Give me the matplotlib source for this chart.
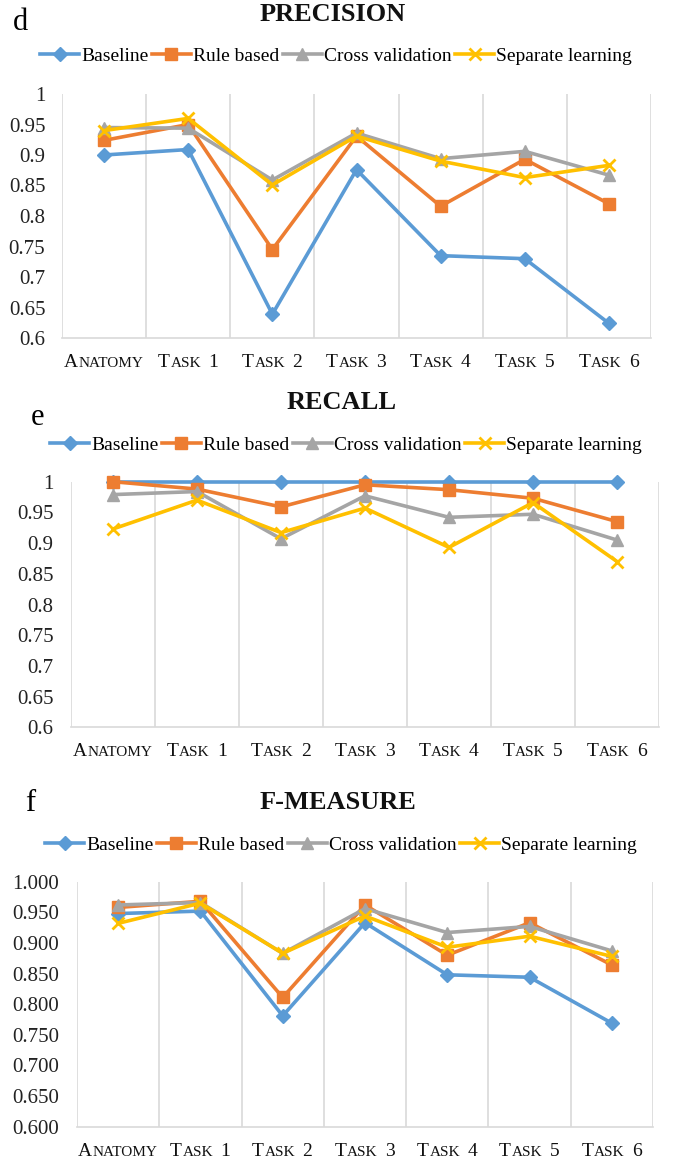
from matplotlib import pyplot as plt
from matplotlib import transforms
from matplotlib.ticker import FormatStrFormatter, FuncFormatter

categories = ["Anatomy", "Task 1", "Task 2", "Task 3", "Task 4", "Task 5", "Task 6"]
series_names = ["Baseline", "Rule based", "Cross validation", "Separate learning"]

precision_baseline = [0.900, 0.909, 0.639, 0.876, 0.735, 0.730, 0.624]
precision_rule = [0.924, 0.950, 0.745, 0.931, 0.816, 0.893, 0.820]
precision_cross = [0.945, 0.944, 0.859, 0.936, 0.894, 0.906, 0.867]
precision_separate = [0.940, 0.960, 0.851, 0.931, 0.890, 0.863, 0.883]

recall_baseline = [1.0, 1.0, 1.0, 1.0, 1.0, 1.0, 1.0]
recall_rule = [1.0, 0.988, 0.959, 0.995, 0.987, 0.973, 0.935]
recall_cross = [0.979, 0.984, 0.907, 0.977, 0.942, 0.947, 0.905]
recall_separate = [0.923, 0.970, 0.917, 0.957, 0.893, 0.966, 0.870]

fmeasure_baseline = [0.948, 0.952, 0.781, 0.933, 0.848, 0.844, 0.769]
fmeasure_rule = [0.958, 0.968, 0.811, 0.962, 0.880, 0.933, 0.864]
fmeasure_cross = [0.962, 0.966, 0.883, 0.956, 0.917, 0.927, 0.887]
fmeasure_separate = [0.932, 0.965, 0.883, 0.944, 0.893, 0.911, 0.878]

colors = ["#5B9BD5", "#ED7D31", "#A5A5A5", "#FFC000"]
markers = ["D", "s", "^", "x"]
msizes = [7, 8, 8, 9]

plt.rcParams['font.family'] = ['Liberation Serif', 'DejaVu Serif']
W, H = 678, 1164
fig = plt.figure(figsize=(W / 100, H / 100), dpi=100)

# (left, right, top(1.0), bottom(0.6)) in pixels, title baseline, letter pos, legend center
panels = [
    dict(box=(62, 651, 94, 338), title="PRECISION", ty=21, tx=333, letter="d", lpos=(21, 30),
         leg=(336, 56), fmt=None, pad=12,
         data=[precision_baseline, precision_rule, precision_cross, precision_separate]),
    dict(box=(71, 659, 481.7, 727.3), title="RECALL", ty=409, tx=342, letter="e", lpos=(38, 425),
         leg=(346, 445), fmt=None, pad=12.5,
         data=[recall_baseline, recall_rule, recall_cross, recall_separate]),
    dict(box=(77, 653, 881.7, 1126.7), title="F-MEASURE", ty=809, tx=338, letter="f", lpos=(30, 811),
         leg=(341, 845), fmt="%.3f", pad=13,
         data=[fmeasure_baseline, fmeasure_rule, fmeasure_cross, fmeasure_separate]),
]

x = list(range(len(categories)))
label_sets = []
for p in panels:
    l, r, t, b = p["box"]
    ax = fig.add_axes([l / W, 1 - b / H, (r - l) / W, (b - t) / H])
    for vals, name, c, m, ms in zip(p["data"], series_names, colors, markers, msizes):
        ax.plot(x, vals, color=c, lw=2.6, marker=m, ms=ms, mew=2 if m == "x" else 1,
                label=name, clip_on=False, zorder=3)
    ax.set_xlim(-0.5, len(categories) - 0.5)
    ax.set_ylim(0.6, 1.0)
    ax.set_yticks([0.6 + 0.05 * i for i in range(9)])
    if p["fmt"]:
        ax.yaxis.set_major_formatter(FormatStrFormatter(p["fmt"]))
    else:
        ax.yaxis.set_major_formatter(FuncFormatter(lambda v, pos: ("%.2f" % v).rstrip('0').rstrip('.')))
    ax.tick_params(axis='y', length=0, pad=p["pad"], labelsize=15, labelcolor="#222222")
    ax.set_xticks([i - 0.5 for i in range(len(categories) + 1)])
    ax.set_xticklabels([])
    ax.tick_params(axis='x', length=0)
    ax.grid(axis='x', color="#d9d9d9", lw=1.2)
    for s in ["left", "right", "top"]:
        ax.spines[s].set_visible(False)
    ax.spines["bottom"].set_color("#d9d9d9")
    ax.spines["bottom"].set_linewidth(1.2)

    fig.text(p["tx"] / W, 1 - p["ty"] / H, p["title"], ha='center', va='baseline',
             fontsize=19, fontweight='bold', color="#111111")
    fig.text(p["lpos"][0] / W, 1 - p["lpos"][1] / H, p["letter"], ha='center', va='baseline',
             fontsize=22, color="black")
    ax.legend(loc='center', bbox_to_anchor=(p["leg"][0] / W, 1 - p["leg"][1] / H),
              bbox_transform=fig.transFigure, ncol=4, frameon=False, fontsize=14,
              handlelength=2.0, handletextpad=0.1, columnspacing=0.2, borderaxespad=0)

    # small caps category labels
    base = transforms.blended_transform_factory(ax.transData, ax.transAxes)
    for xi, cat in zip(x, categories):
        pieces = []
        for wi, word in enumerate(cat.split(' ')):
            if wi:
                pieces.append(None)
            pieces.append((word[0], 14))
            if len(word) > 1:
                pieces.append((word[1:].upper(), 11))
        texts = []
        for pc in pieces:
            if pc is None:
                texts.append(None)
            else:
                texts.append(ax.text(xi, 0, pc[0], fontsize=pc[1], transform=base,
                                     ha='left', va='baseline', color="#111111"))
        label_sets.append((ax, base, xi, texts))

fig.canvas.draw()
renderer = fig.canvas.get_renderer()
for ax, base, xi, texts in label_sets:
    widths = []
    for t in texts:
        widths.append(6 if t is None else t.get_window_extent(renderer).width + 1)
    total = sum(widths)
    off = -total / 2
    for t, w in zip(texts, widths):
        if t is not None:
            t.set_transform(transforms.offset_copy(base, fig=fig, x=off, y=-29, units='dots'))
        off += w

fig.savefig("out.png", dpi=100)
